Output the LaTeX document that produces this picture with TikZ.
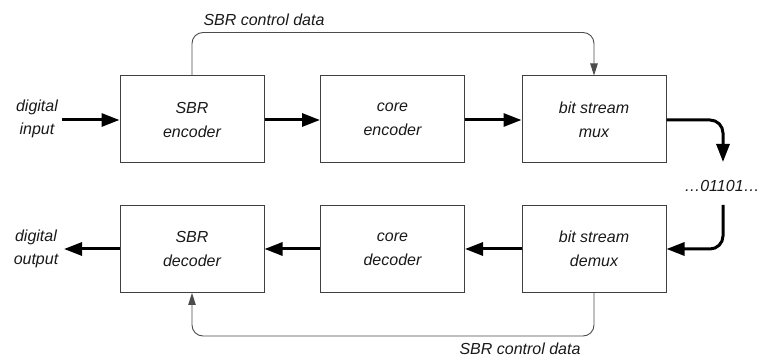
\documentclass[tikz,border=0pt]{standalone}
\usepackage{fontspec}
\setmainfont{Liberation Sans}
\usetikzlibrary{arrows.meta}
\begin{document}
\begin{tikzpicture}[x=1pt,y=-1pt,
  blk/.style={draw=black!75, line width=1pt, minimum width=144pt, minimum height=87pt, inner sep=0pt,
    align=center, font=\fontsize{16}{24}\selectfont\itshape, text=black!90},
  lbl/.style={align=center, font=\fontsize{16}{23}\selectfont\itshape, text=black!90, inner sep=0pt},
  thick arrow/.style={line width=3pt, -{Triangle[length=18pt,width=13pt]}},
  thin arrow/.style={draw=black!70, line width=0.9pt, rounded corners=11pt, -{Triangle[length=12pt,width=7.5pt]}}
]
\useasboundingbox (0,0) rectangle (764,358);
% top row
\node[blk] (senc) at (192,119.5) {SBR\\encoder};
\node[blk] (cenc) at (392.5,119.5) {core\\encoder};
\node[blk] (mux) at (594,119.5) {bit stream\\mux};
% bottom row
\node[blk] (sdec) at (192,249) {SBR\\decoder};
\node[blk] (cdec) at (392.5,249) {core\\decoder};
\node[blk] (demux) at (594,249) {bit stream\\demux};
% labels
\node[lbl] (din) at (37,119) {digital\\input};
\node[lbl] (dout) at (36,249) {digital\\output};
\node[lbl, anchor=base] (bits) at (722,192) {…01101…};
\node[lbl] (ctop) at (264,20) {SBR control data};
\node[lbl] (cbot) at (520,349) {SBR control data};
\coordinate (inS) at (62,120);
\coordinate (outE) at (64,249);
\coordinate (bitsTop) at (723,162);
\coordinate (bitsBot) at (723,205);
% main thick arrows
\draw[thick arrow] (inS) -- (senc.west |- inS);
\draw[thick arrow] (senc.east |- inS) -- (cenc.west |- inS);
\draw[thick arrow] (cenc.east |- inS) -- (mux.west |- inS);
\draw[thick arrow, rounded corners=13pt] (mux.east |- inS) -| (bitsTop);
\draw[thick arrow, rounded corners=13pt] (bitsBot) |- (demux.east);
\draw[thick arrow] (demux.west) -- (cdec.east);
\draw[thick arrow] (cdec.west) -- (sdec.east);
\draw[thick arrow] (sdec.west) -- (outE);
% control data
\draw[thin arrow] (senc.north) -- ++(0,-43) -| (mux.north);
\draw[thin arrow] (demux.south) -- ++(0,43) -| (sdec.south);
\end{tikzpicture}
\end{document}
